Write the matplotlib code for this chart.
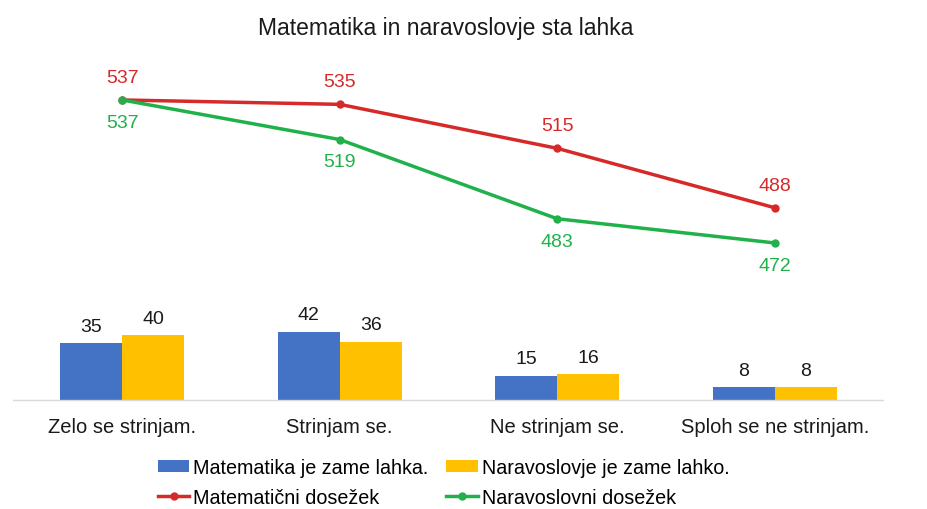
import matplotlib
matplotlib.use("Agg")
import matplotlib.pyplot as plt
import numpy as np

plt.rcParams['font.family'] = ['Liberation Sans', 'DejaVu Sans']

categories = ["Zelo se strinjam.", "Strinjam se.", "Ne strinjam se.", "Sploh se ne strinjam."]
mat_lahka = [35, 42, 15, 8]
nar_lahko = [40, 36, 16, 8]
mat_dosezek = [537, 535, 515, 488]
nar_dosezek = [537, 519, 483, 472]

blue = "#4472C4"
gold = "#FFC000"
red = "#D62A2A"
green = "#1FB24A"

fig = plt.figure(figsize=(9.28, 5.10), dpi=100)
ax = fig.add_axes([0.0145, 0.2137, 0.9375, 0.6686])
x = np.arange(len(categories))
w = 0.286

b1 = ax.bar(x - w / 2, mat_lahka, w, color=blue, label="Matematika je zame lahka.")
b2 = ax.bar(x + w / 2, nar_lahko, w, color=gold, label="Naravoslovje je zame lahko.")
for rect, v in zip(list(b1) + list(b2), mat_lahka + nar_lahko):
    ax.annotate(str(v), (rect.get_x() + rect.get_width() / 2, v),
                xytext=(0, 6), textcoords="offset points",
                ha="center", va="bottom", fontsize=14, color="#1a1a1a")

ax.set_xlim(-0.5, 3.5)
ax.set_ylim(0, 210)
ax.set_xticks(x)
ax.set_xticklabels(categories, fontsize=14.5, color="#1a1a1a")
ax.tick_params(axis="x", length=0, pad=12)
ax.set_yticks([])
for s in ["top", "right", "left"]:
    ax.spines[s].set_visible(False)
ax.spines["bottom"].set_color("#d9d9d9")
ax.spines["bottom"].set_linewidth(1.0)

ax2 = ax.twinx()
ax2.set_ylim(400.6, 555.6)
l1, = ax2.plot(x, mat_dosezek, color=red, lw=2.5, marker="o", ms=5, label="Matematični dosežek")
l2, = ax2.plot(x, nar_dosezek, color=green, lw=2.5, marker="o", ms=5, label="Naravoslovni dosežek")
for xi, v in zip(x, mat_dosezek):
    ax2.annotate(str(v), (xi, v), xytext=(0, 10), textcoords="offset points",
                 ha="center", va="bottom", fontsize=14, color=red)
for xi, v in zip(x, nar_dosezek):
    ax2.annotate(str(v), (xi, v), xytext=(0, -10), textcoords="offset points",
                 ha="center", va="top", fontsize=14, color=green)
ax2.set_yticks([])
for s in ax2.spines.values():
    s.set_visible(False)

fig.text(0.48, 0.945, "Matematika in naravoslovje sta lahka", ha="center", va="center",
         fontsize=16.5, color="#1a1a1a")

fig.legend(handles=[b1, l1, b2, l2], loc="upper left", bbox_to_anchor=(0.170, 0.100),
           ncol=2, frameon=False, fontsize=14.2, handlelength=1.6, handleheight=0.55,
           handletextpad=0.2, columnspacing=0.9, labelspacing=0.55, borderaxespad=0,
           borderpad=0)

fig.savefig("out.png", dpi=100)
